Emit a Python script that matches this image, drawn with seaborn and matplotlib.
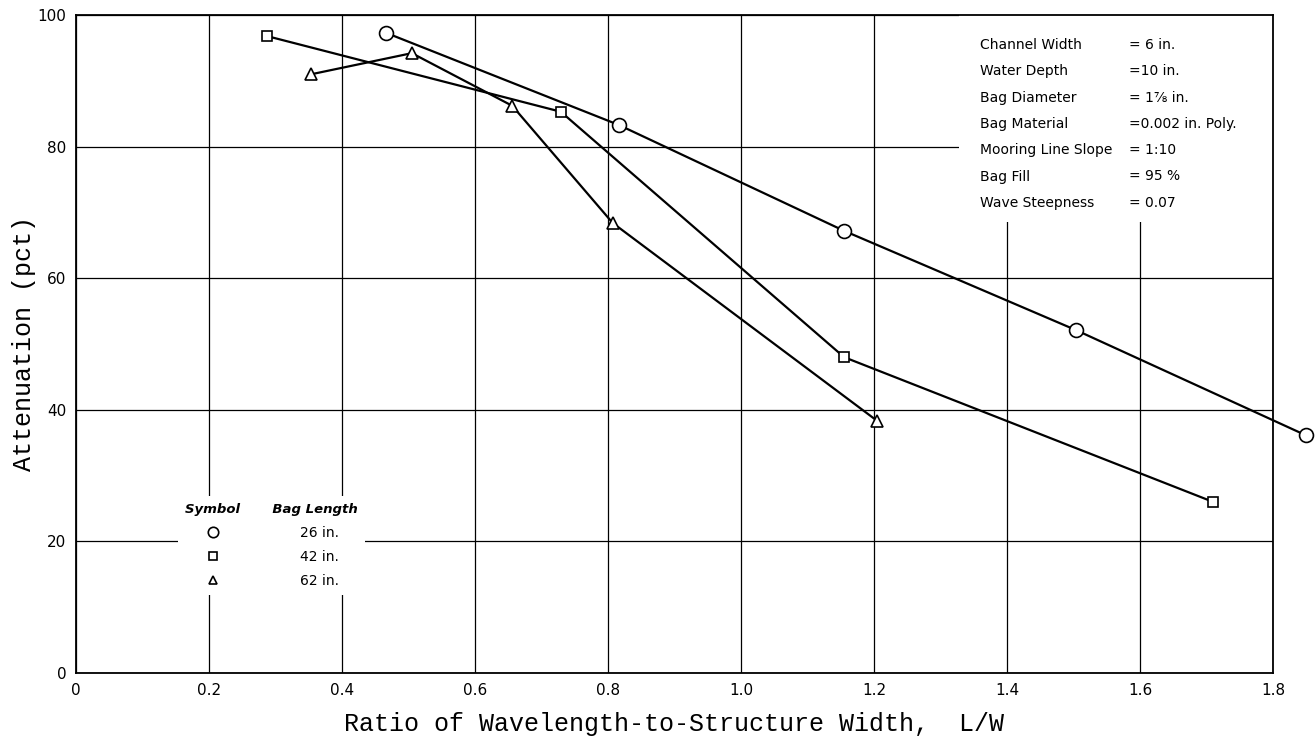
import matplotlib
matplotlib.use("Agg")
import matplotlib.pyplot as plt
from matplotlib.lines import Line2D
from matplotlib.patches import Rectangle
import seaborn as sns
import pandas as pd

# ---- data ----
x_26 = [0.466, 0.816, 1.155, 1.504, 1.85]
y_26 = [97.3, 83.3, 67.2, 52.1, 36.1]
x_42 = [0.287, 0.729, 1.155, 1.71]
y_42 = [96.8, 85.3, 48.0, 26.0]
x_62 = [0.354, 0.505, 0.656, 0.807, 1.205]
y_62 = [91.0, 94.2, 86.2, 68.4, 38.3]
series_labels = ["26 in.", "42 in.", "62 in."]

x_ticks = [0, 0.2, 0.4, 0.6, 0.8, 1.0, 1.2, 1.4, 1.6, 1.8]
x_tick_labels = ["0", "0.2", "0.4", "0.6", "0.8", "1.0", "1.2", "1.4", "1.6", "1.8"]
y_ticks = [0, 20, 40, 60, 80, 100]
y_tick_labels = ["0", "20", "40", "60", "80", "100"]

cond_names = ["Channel Width", "Water Depth", "Bag Diameter", "Bag Material",
              "Mooring Line Slope", "Bag Fill", "Wave Steepness"]
cond_values = ["= 6 in.", "=10 in.", "= 1\u215e in.", "=0.002 in. Poly.",
               "= 1:10", "= 95 %", "= 0.07"]

x_label = "Ratio of Wavelength-to-Structure Width,  L/W"
y_label = "Attenuation (pct)"

# ---- build table ----
df = pd.concat([
    pd.DataFrame({"ratio": x_26, "atten": y_26, "length": series_labels[0]}),
    pd.DataFrame({"ratio": x_42, "atten": y_42, "length": series_labels[1]}),
    pd.DataFrame({"ratio": x_62, "atten": y_62, "length": series_labels[2]}),
], ignore_index=True)

sns.set_theme(style="white", rc={"text.color": "black", "axes.labelcolor": "black",
                                 "xtick.color": "black", "ytick.color": "black"})
plt.rcParams["font.family"] = ["DejaVu Sans"]

fig = plt.figure(figsize=(13.15, 7.37), dpi=100)
ax = fig.add_axes([76 / 1315, 1 - 673 / 737, 1197 / 1315, 658 / 737])

markers = {"26 in.": ("o", 10), "42 in.": ("s", 7.5), "62 in.": ("^", 8)}
for lab in series_labels:
    m, ms = markers[lab]
    sub = df[df["length"] == lab]
    sns.lineplot(data=sub, x="ratio", y="atten", ax=ax, color="black",
                 linewidth=1.6, marker=m, markersize=ms,
                 markerfacecolor="white", markeredgecolor="black",
                 markeredgewidth=1.2, sort=False, estimator=None,
                 legend=False, zorder=3)
for ln in ax.lines:
    ln.set_clip_on(False)

ax.set_xlim(0, 1.8)
ax.set_ylim(0, 100)
ax.set_xticks(x_ticks)
ax.set_xticklabels(x_tick_labels)
ax.set_yticks(y_ticks)
ax.set_yticklabels(y_tick_labels)
ax.tick_params(length=0, labelsize=11, pad=7, colors="black")
ax.grid(True, color="black", linewidth=0.9)
ax.set_axisbelow(True)
for sp in ax.spines.values():
    sp.set_color("black")
    sp.set_linewidth(1.3)

ax.set_xlabel(x_label, family="Liberation Mono", fontsize=18, color="black", labelpad=10)
ax.set_ylabel(y_label, family="Liberation Mono", fontsize=18, color="black", labelpad=1)

# conditions block (blanks the grid behind it)
ax.add_patch(Rectangle((0.738, 0.685), 0.262, 0.315, transform=ax.transAxes,
                       facecolor="white", edgecolor="none", zorder=1))
y0 = (673 - 45) / 658
dy = 26.3 / 658
for i, (n, v) in enumerate(zip(cond_names, cond_values)):
    ax.text(0.755, y0 - i * dy, n, transform=ax.transAxes, fontsize=10,
            va="center", ha="left", zorder=4, color="black")
    ax.text(0.880, y0 - i * dy, v, transform=ax.transAxes, fontsize=10,
            va="center", ha="left", zorder=4, color="black")

# symbol legend
handles = [Line2D([], [], ls="none", marker=markers[l][0],
                  markersize=markers[l][1] * 0.75, markerfacecolor="white",
                  markeredgecolor="black", markeredgewidth=1.2,
                  color="black") for l in series_labels]
leg = ax.legend(handles, series_labels, loc="upper left",
                bbox_to_anchor=((178 - 76) / 1197, (673 - 496) / 658),
                frameon=True, facecolor="white", edgecolor="none",
                framealpha=1, fancybox=False, fontsize=10,
                title="Symbol       Bag Length",
                title_fontproperties={"style": "italic", "weight": "semibold", "size": 9.5},
                alignment="left", handlelength=4.0, handletextpad=4.3,
                labelspacing=0.72, borderpad=0.5, borderaxespad=0)
leg.set_zorder(2)
for t in leg.get_texts():
    t.set_color("black")
leg.get_title().set_color("black")

fig.savefig("out.png", dpi=100)
